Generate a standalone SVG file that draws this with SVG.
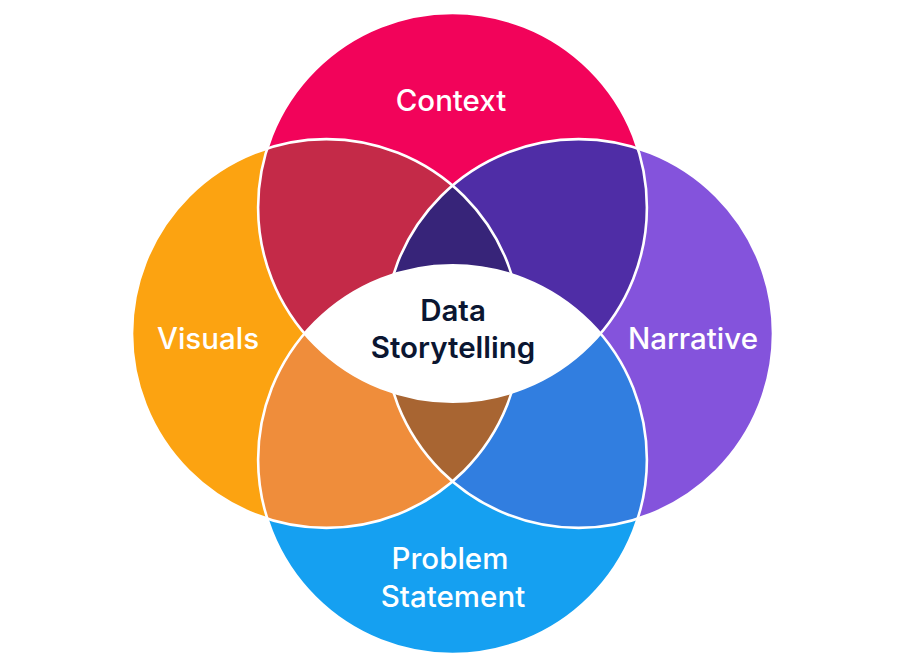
<svg xmlns="http://www.w3.org/2000/svg" width="906" height="668" viewBox="0 0 906 668">
  <style>
    .lbl { font-family: Inter, "Liberation Sans", Arial, sans-serif; font-size: 29.5px; font-weight: 500; fill: #ffffff; text-anchor: middle; }
    .core { font-family: Inter, "Liberation Sans", Arial, sans-serif; font-size: 29.5px; font-weight: 600; fill: #0B1631; text-anchor: middle; }
    .ring { fill: none; stroke: #ffffff; stroke-width: 2.6; }
  </style>
  <defs>
    <circle id="cT" cx="452.5" cy="207.4" r="194.4"/>
    <circle id="cB" cx="452.5" cy="459.6" r="194.4"/>
    <circle id="cL" cx="326.4" cy="333.5" r="194.4"/>
    <circle id="cR" cx="578.6" cy="333.5" r="194.4"/>
    <clipPath id="clipT"><use href="#cT"/></clipPath>
    <clipPath id="clipB"><use href="#cB"/></clipPath>
    <clipPath id="clipL"><use href="#cL"/></clipPath>
    <clipPath id="clipR"><use href="#cR"/></clipPath>
  </defs>
  <rect width="906" height="668" fill="#ffffff"/>

  <g id="context">
    <use href="#cT" fill="#F2035A"/>
  </g>
  <g id="narrative">
    <use href="#cR" fill="#8453DC"/>
  </g>
  <g id="problem-statement">
    <use href="#cB" fill="#15A0F1"/>
  </g>
  <g id="visuals">
    <use href="#cL" fill="#FCA311"/>
  </g>

  <g id="overlaps">
    <g clip-path="url(#clipT)">
      <use href="#cL" fill="#C42A48"/>
      <use href="#cR" fill="#4F2DA6"/>
      <g clip-path="url(#clipL)">
        <use href="#cR" fill="#372479"/>
      </g>
    </g>
    <g clip-path="url(#clipB)">
      <use href="#cL" fill="#EF8D3B"/>
      <use href="#cR" fill="#317EE0"/>
      <g clip-path="url(#clipL)">
        <use href="#cR" fill="#A86532"/>
      </g>
    </g>
  </g>

  <g id="outlines">
    <use href="#cT" class="ring"/>
    <use href="#cR" class="ring"/>
    <use href="#cB" class="ring"/>
    <use href="#cL" class="ring"/>
  </g>

  <g id="data-storytelling">
    <g clip-path="url(#clipT)">
      <use href="#cB" fill="#ffffff"/>
    </g>
    <text class="core" x="453" y="320.5">Data</text>
    <text class="core" x="453" y="357.5">Storytelling</text>
  </g>

  <g id="labels">
    <text class="lbl" x="451" y="110.5">Context</text>
    <text class="lbl" x="208" y="348.5">Visuals</text>
    <text class="lbl" x="693" y="348.5">Narrative</text>
    <text class="lbl" x="450" y="569">Problem</text>
    <text class="lbl" x="453" y="607">Statement</text>
  </g>
</svg>
